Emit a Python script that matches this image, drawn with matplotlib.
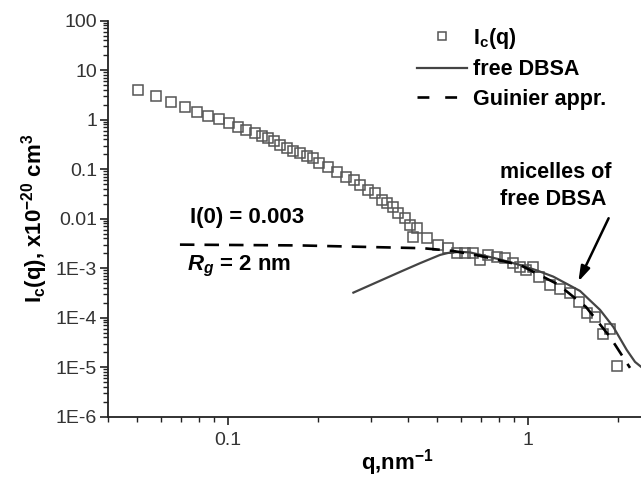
import matplotlib
matplotlib.use("Agg")
import matplotlib.pyplot as plt
from matplotlib.ticker import LogLocator, NullFormatter, FixedLocator, FixedFormatter

# ---- data ----
q_data = [0.0503, 0.0575, 0.0646, 0.0721, 0.0788, 0.0861, 0.0935, 0.101, 0.1085, 0.115,
          0.1233, 0.1298, 0.1365, 0.1426, 0.1493, 0.1573, 0.1655, 0.1743, 0.1834, 0.1929,
          0.2018, 0.2163, 0.2308, 0.2477, 0.2636, 0.276, 0.2943, 0.3097, 0.326, 0.3388,
          0.3565, 0.3707, 0.390, 0.4055, 0.4266, 0.4157, 0.4607, 0.5035, 0.5433, 0.5797,
          0.618, 0.659, 0.6937, 0.7393, 0.7888, 0.840, 0.8954, 0.9426, 0.987, 1.044,
          1.093, 1.187, 1.281, 1.384, 1.486, 1.573, 1.677, 1.778, 1.881, 1.989]
I_data = [3.95, 2.99, 2.30, 1.77, 1.44, 1.20, 1.01, 0.865, 0.719, 0.617,
          0.529, 0.467, 0.419, 0.375, 0.307, 0.264, 0.236, 0.209, 0.184, 0.166,
          0.135, 0.112, 0.0889, 0.0705, 0.0604, 0.0479, 0.0379, 0.0335, 0.0238, 0.0205,
          0.0175, 0.0129, 0.0102, 0.00746, 0.0064, 0.00421, 0.00402, 0.00294, 0.00253, 0.0020,
          0.00206, 0.0020, 0.00147, 0.00185, 0.00166, 0.00159, 0.00129, 0.00107, 0.000922, 0.00107,
          0.000675, 0.000459, 0.000376, 0.000321, 0.000211, 0.000123, 0.000102, 4.71e-5, 5.86e-5, 1.06e-5]

q_fit = [0.2624, 0.3753, 0.4375, 0.510, 0.5425, 0.5945, 0.642, 0.7302, 0.8086, 0.9426,
         1.074, 1.217, 1.494, 1.742, 1.929, 2.138, 2.279, 2.387]
I_fit = [3.21e-4, 8.4e-4, 1.26e-3, 1.85e-3, 2.03e-3, 2.14e-3, 2.08e-3, 1.74e-3, 1.50e-3, 1.16e-3,
         9.0e-4, 6.75e-4, 3.47e-4, 1.44e-4, 6.52e-5, 2.24e-5, 1.28e-5, 1.02e-5]

q_gui = [0.0693, 0.174, 0.4477, 0.5636, 0.6937, 0.9426, 1.262, 1.564, 1.881, 2.193]
I_gui = [2.99e-3, 2.88e-3, 2.53e-3, 2.23e-3, 1.77e-3, 1.16e-3, 4.7e-4, 1.65e-4, 4.1e-5, 9.7e-6]

y_ticks = [1e2, 1e1, 1e0, 1e-1, 1e-2, 1e-3, 1e-4, 1e-5, 1e-6]
y_labels = ["100", "10", "1", "0.1", "0.01", "1E-3", "1E-4", "1E-5", "1E-6"]
x_ticks = [0.1, 1]
x_labels = ["0.1", "1"]

plt.rcParams["font.family"] = ["Liberation Sans", "DejaVu Sans"]
plt.rcParams["mathtext.fontset"] = "custom"
plt.rcParams["mathtext.rm"] = "Liberation Sans:bold"
plt.rcParams["mathtext.bf"] = "Liberation Sans:bold"
plt.rcParams["mathtext.it"] = "Liberation Sans:bold:italic"
plt.rcParams["mathtext.default"] = "rm"

fig = plt.figure(figsize=(6.41, 4.79), dpi=100)
ax = fig.add_axes([0.169, 0.130, 0.831, 0.827])
ax.set_xscale("log")
ax.set_yscale("log")
ax.set_xlim(0.04, 2.386)
ax.set_ylim(1e-6, 100)

axis_col = "#222222"
tick_col = "#333333"

ax.plot(q_data, I_data, linestyle="none", marker="s", markersize=7.2,
        markerfacecolor="none", markeredgecolor="#555555", markeredgewidth=1.1,
        label=r"I$_c$(q)", zorder=3)
ax.plot(q_fit, I_fit, color="#444444", lw=1.6, label="free DBSA", zorder=4)
ax.plot(q_gui, I_gui, color="black", lw=1.9, dashes=(5.5, 3.8), label="Guinier appr.", zorder=5)

for s in ["top", "right"]:
    ax.spines[s].set_visible(False)
for s in ["left", "bottom"]:
    ax.spines[s].set_color(axis_col)
    ax.spines[s].set_linewidth(1.3)

ax.yaxis.set_major_locator(FixedLocator(y_ticks))
ax.yaxis.set_major_formatter(FixedFormatter(y_labels))
ax.yaxis.set_minor_locator(LogLocator(base=10, subs=range(2, 10), numticks=20))
ax.yaxis.set_minor_formatter(NullFormatter())
ax.xaxis.set_major_locator(FixedLocator(x_ticks))
ax.xaxis.set_major_formatter(FixedFormatter(x_labels))
ax.xaxis.set_minor_locator(LogLocator(base=10, subs=range(2, 10), numticks=20))
ax.xaxis.set_minor_formatter(NullFormatter())

ax.tick_params(which="major", direction="out", length=6, width=1.2, color=axis_col,
               labelsize=14, labelcolor=tick_col)
ax.tick_params(axis="y", which="major", pad=2)
ax.tick_params(axis="x", which="major", pad=5)
ax.tick_params(which="minor", direction="out", length=3.5, width=1.0, color=axis_col)

ax.set_ylabel(r"I$_c$(q), x10$^{-20}$ cm$^3$", fontsize=16, fontweight="bold", labelpad=4)
ax.set_xlabel(r"q,nm$^{-1}$", fontsize=16, fontweight="bold")
ax.xaxis.set_label_coords(0.542, -0.077)

ax.text(0.153, 0.488, "I(0) = 0.003", transform=ax.transAxes, fontsize=16,
        fontweight="bold", ha="left", va="baseline")
ax.text(0.148, 0.370, r"$\mathit{R_g}$ = 2 nm", transform=ax.transAxes, fontsize=16,
        fontweight="bold", ha="left", va="baseline")
ax.text(0.736, 0.602, "micelles of", transform=ax.transAxes, fontsize=15.5,
        fontweight="bold", ha="left", va="baseline")
ax.text(0.736, 0.534, "free DBSA", transform=ax.transAxes, fontsize=15.5,
        fontweight="bold", ha="left", va="baseline")
ax.annotate("", xy=(1.475, 5.36e-4), xytext=(1.861, 0.0102),
            arrowprops=dict(arrowstyle="-|>,head_length=0.9,head_width=0.28",
                            color="black", lw=1.8, shrinkA=0, shrinkB=0))

leg = ax.legend(loc="upper left", bbox_to_anchor=(0.5795, 0.987), frameon=False,
                borderaxespad=0, borderpad=0, handlelength=2.33, handletextpad=0.28,
                labelspacing=0.39, markerscale=0.8,
                prop={"family": "Liberation Sans", "weight": "bold", "size": 15.5})
leg.get_lines()[2].set_dashes((4.5, 6.0))

fig.savefig("out.png", dpi=100)
